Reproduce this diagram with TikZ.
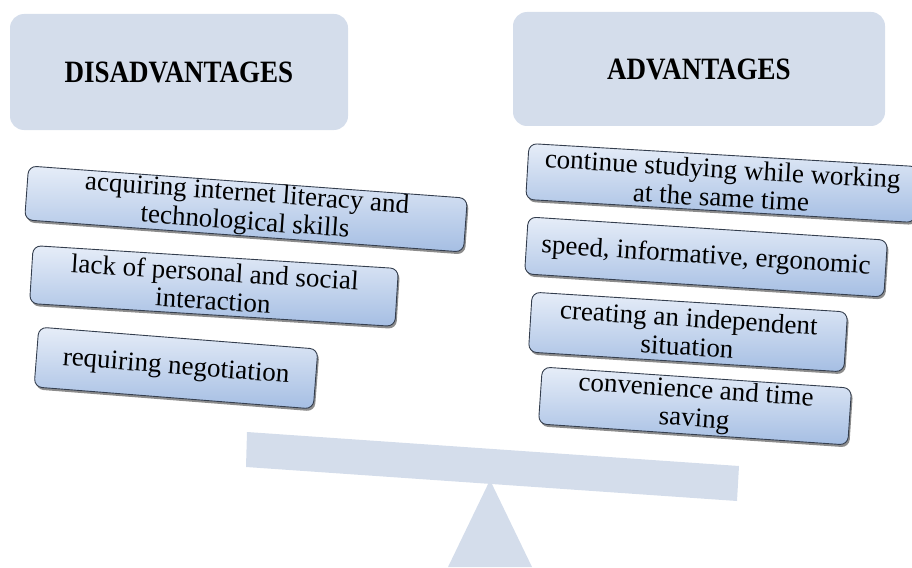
\documentclass[tikz,border=0pt]{standalone}
\usepackage{fontspec}
\setmainfont{Liberation Serif}
\usetikzlibrary{shadows}
\definecolor{hdr}{HTML}{D4DDEB}
\definecolor{gtop}{HTML}{E6EDF8}
\definecolor{gbot}{HTML}{A5BEE3}
\definecolor{edgec}{HTML}{343E4E}
\newcommand{\tallcaps}[1]{\scalebox{1}[1.15]{#1}}
\begin{document}
\begin{tikzpicture}[x=1pt,y=-1pt,
  hdrbox/.style={fill=hdr, rounded corners=14pt, inner sep=0pt,
    font=\fontsize{27}{30}\selectfont\bfseries},
  itembox/.style={draw=edgec, line width=0.9pt, rounded corners=8pt,
    top color=gtop, bottom color=gbot, inner sep=0pt, align=center,
    drop shadow={shadow xshift=1.5pt, shadow yshift=-2.5pt, fill=black, opacity=0.45},
    font=\fontsize{27}{28.5}\selectfont}]
\useasboundingbox (0,0) rectangle (912,567);
\clip (0,0) rectangle (912,567);
% headers
\node[hdrbox, minimum width=338pt, minimum height=116pt] (dis) at (179,72) {\tallcaps{DISADVANTAGES}};
\node[hdrbox, minimum width=372pt, minimum height=114pt] (adv) at (699,69) {\tallcaps{ADVANTAGES}};
% balance
\fill[hdr] (490,480) -- (532,567) -- (448,567) -- cycle;
\fill[hdr] (247,432) -- (246,467) -- (737,501) -- (739,466) -- cycle;
% disadvantages
\node[itembox, minimum width=440pt, minimum height=54pt, rotate=-4.2] (d1) at (246,209)
  {acquiring internet literacy and\\technological skills};
\node[itembox, minimum width=366pt, minimum height=58pt, rotate=-3.6] (d2) at (214,286)
  {lack of personal and social\\interaction};
\node[itembox, minimum width=280pt, minimum height=60pt, rotate=-4.5] (d3) at (176,368)
  {requiring negotiation};
% advantages
\node[itembox, minimum width=390pt, minimum height=56pt, rotate=-3.4] (a1) at (722,183)
  {continue studying while working\\at the same time};
\node[itembox, minimum width=360pt, minimum height=57pt, rotate=-3.7] (a2) at (706,257)
  {speed, informative, ergonomic};
\node[itembox, minimum width=316pt, minimum height=60pt, rotate=-3.6] (a3) at (688,332)
  {creating an independent\\situation};
\node[itembox, minimum width=310pt, minimum height=57pt, rotate=-3.9] (a4) at (695,406)
  {convenience and time\\saving};
\end{tikzpicture}
\end{document}
